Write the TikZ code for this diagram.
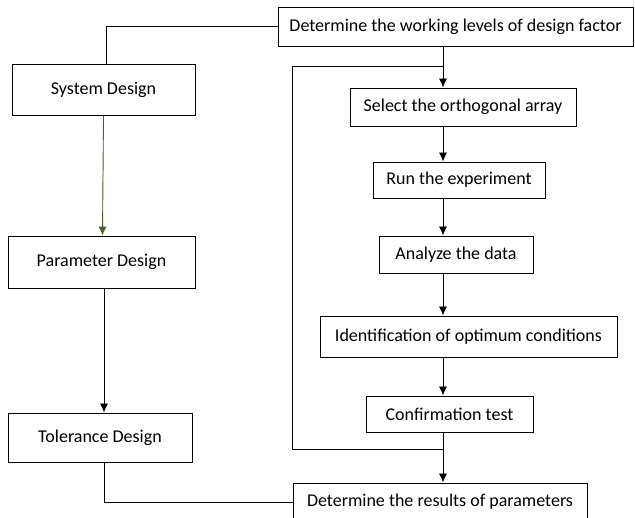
\documentclass[tikz,border=0pt]{standalone}
\usepackage{fontspec}
\setmainfont{Carlito}
\usetikzlibrary{positioning, arrows.meta}

\begin{document}
\begin{tikzpicture}[x=1pt, y=-1pt, line width=0.9pt, font=\fontsize{18}{21}\selectfont,
                    box/.style = {draw, rectangle, inner sep=0pt},
                    arr/.style = {-{Latex[length=9pt, width=8pt]}}]
    \useasboundingbox (0,0) rectangle (635,518);

    \node[box, minimum width=355, minimum height=39] (det) at (455.5,26.5) {Determine the working levels of design factor};
    \node[box, minimum width=183, minimum height=51] (sys) at (103.5,89.5) {System Design};
    \node[box, minimum width=187, minimum height=52] (par) at (101.5,262) {Parameter Design};
    \node[box, minimum width=184, minimum height=49] (tol) at (100,437.5) {Tolerance Design};
    \node[box, minimum width=226, minimum height=38] (sel) at (463,107) {Select the orthogonal array};
    \node[box, minimum width=172, minimum height=36] (run) at (459,180) {Run the experiment};
    \node[box, minimum width=154, minimum height=37] (ana) at (456,254.5) {Analyze the data};
    \node[box, minimum width=297, minimum height=41] (idn) at (468.5,336.5) {Identification of optimum conditions};
    \node[box, minimum width=167, minimum height=36] (conf) at (449.5,414) {Confirmation test};
    \node[box, minimum width=294, minimum height=38] (res) at (440,502) {Determine the results of parameters};

    % axes of the two columns and the feedback loop
    \coordinate (laxis) at (104,0);
    \coordinate (axis) at (443,0);
    \coordinate (looptop) at (443,66);
    \coordinate (loopbot) at (443,449);
    \coordinate (lt) at (292,66);
    \coordinate (lb) at (292,449);

    \draw (det.west) -| ([xshift=3]sys.north);
    \draw[arr, draw={rgb,255:red,79;green,98;blue,40}, fill={rgb,255:red,79;green,98;blue,40}] (sys.south) -- ([xshift=1]par.north);
    \draw[arr] (par.south -| laxis) -- (tol.north -| laxis);
    \draw (tol.south -| laxis) |- (res.west);

    \draw[arr] (det.south -| axis) -- (sel.north -| axis);
    \draw[arr] (sel.south -| axis) -- (run.north -| axis);
    \draw[arr] (run.south -| axis) -- (ana.north -| axis);
    \draw[arr] (ana.south -| axis) -- (idn.north -| axis);
    \draw[arr] (idn.south -| axis) -- (conf.north -| axis);
    \draw[arr] (conf.south -| axis) -- (res.north -| axis);

    \draw (looptop) -- (lt) -- (lb) -- (loopbot);
\end{tikzpicture}
\end{document}
